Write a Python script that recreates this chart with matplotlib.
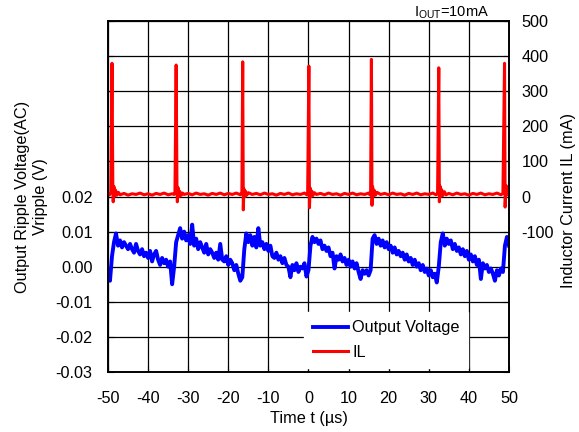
import numpy as np
import matplotlib.pyplot as plt

plt.rcParams['font.family'] = ['Liberation Sans', 'DejaVu Sans']
plt.rcParams['font.size'] = 11.7
plt.rcParams['axes.unicode_minus'] = False

# -----------------------------
# Data read off the scope capture
# -----------------------------

# output ripple voltage, sampled every 0.5 us from -50 to 50 us (mV)
t_vout = np.arange(-50.0, 50.01, 0.5)
vout_mv = [
    -1.5, -4, 3, 7, 9.5, 6, 7.5, 5.5, 7, 6,
    5, 6.5, 5, 4, 6.5, 4.5, 3.5, 5, 3, 4,
    2.5, 4.5, 1.5, 3.5, 4.5, 2, 0.5, 2.5, 1, 2,
    0, 1.5, -5, 0, 7, 9, 11, 8, 10, 7.5,
    9, 6.5, 12, 6, 8, 5, 7, 5.5, 4, 6.5,
    3.5, 5, 4, 2.5, 4, 2, 6.5, 2, 1.5, 3,
    0.5, 2, 1, -1, 0.5, -2, -4, -3, 5, 9.5,
    7, 9, 6, 8.5, 5.5, 11, 6, 7, 5, 6.5,
    4.5, 6, 3, 2.5, 4, 2, 3, 1, 2.5, 0.5,
    0, -3, 0.5, -1, 1, -1.5, 0, -0.5, 1, -2.8,
    -1, 6, 8.5, 7, 8, 6.5, 7.5, 5, 6, 4.5,
    5.5, 3, 4, -0.5, 3, 2, 3.5, 1.5, 2.5, 0.5,
    2, 0, 1.5, -0.5, 1, -1.5, -3.5, -1, -2, -1,
    -2.5, -1, 8, 9, 6.5, 8, 6, 7.5, 5.5, 7,
    5, 6, 4, 5.5, 3.5, 4.5, 3, 4, 2, 3.5,
    1.5, 2.5, 0.5, 2, 0, 1, -1, 0.5, -1.5, -0.5,
    -2.5, -1, -3, -2, -4.5, 0, 7, 9.5, 6, 8,
    6.5, 7.5, 5, 6.5, 4.5, 5.5, 3.5, 5, 3, 4.5,
    2, 3.5, 1.5, 3, 0.5, 2, -3.5, 1, -0.5, 0.5,
    -1.5, -0.5, -2, -4, -1, -2.5, -0.5, -1.5, 6, 8.5,
    6,
]

# inductor current (us, mA)
il_t = [
    -50.0, -49.6, -49.3,
    -49.0, -48.8, -48.7, -48.5, -48.3, -48.1, -47.8, -47.4,
    -47, -46, -45, -44, -43, -42, -41, -40, -39, -38, -37, -36, -35, -34, -33.5, -33.3,
    -33.0, -32.8, -32.7, -32.5, -32.3, -32.1, -31.8, -31.4,
    -31, -30, -29, -28, -27, -26, -25, -24, -23, -22, -21, -20, -19, -18, -17, -16.8, -16.6,
    -16.4, -16.25, -16.1, -15.9, -15.7, -15.4, -15.0,
    -14, -13, -12, -11, -10, -9, -8, -7, -6, -5, -4, -3, -2, -1, -0.4, -0.2,
    0.1, 0.25, 0.4, 0.6, 0.8, 1.1, 1.5,
    2, 3, 4, 5, 6, 7, 8, 9, 10, 11, 12, 13, 14, 15, 15.3, 15.5,
    15.7, 15.85, 16.0, 16.2, 16.4, 16.7, 17.1,
    18, 19, 20, 21, 22, 23, 24, 25, 26, 27, 28, 29, 30, 31, 31.8, 32.2,
    32.5, 32.65, 32.8, 33.0, 33.2, 33.5, 33.9, 34.3,
    35, 36, 37, 38, 39, 40, 41, 42, 43, 44, 45, 46, 47, 48, 48.5,
    48.9, 49.05, 49.2, 49.4, 49.6, 49.8, 50.0,
]
il_ma = [
    8, 5, 12,
    380, 40, -15, 28, 2, 18, 4, 12,
    5, 9, 4, 8, 6, 10, 5, 8, 4, 9, 6, 10, 5, 8, 6, 11,
    375, 35, -15, 25, 0, 15, 3, 10,
    6, 9, 5, 10, 6, 8, 4, 9, 6, 10, 5, 9, 6, 10, 5, 9, 12,
    384, -38, 22, 0, 15, 4, 11,
    6, 9, 5, 10, 6, 8, 4, 9, 6, 10, 5, 8, 6, 10, 5, 10,
    372, -32, 25, 0, 16, 3, 11,
    6, 9, 5, 10, 6, 8, 4, 9, 6, 10, 5, 8, 6, 10, 5, 9,
    391, -25, 28, 2, 18, 4, 12,
    6, 9, 5, 10, 6, 8, 4, 9, 6, 10, 5, 8, 6, 10, 5, 9,
    367, -15, 30, 0, 20, 3, 14, 5,
    9, 5, 10, 6, 8, 4, 9, 6, 10, 5, 8, 6, 10, 5, 9,
    380, -30, 12, 30, 5, 18, 8,
]

left_ticks = [-0.03, -0.02, -0.01, 0.00, 0.01, 0.02, 0.03, 0.04, 0.05, 0.06, 0.07]
left_labels = ['-0.03', '-0.02', '-0.01', '0.00', '0.01', '0.02', '', '', '', '', '']
right_ticks = [-500, -400, -300, -200, -100, 0, 100, 200, 300, 400, 500]
right_labels = ['', '', '', '', '-100', '0', '100', '200', '300', '400', '500']
x_ticks = [-50, -40, -30, -20, -10, 0, 10, 20, 30, 40, 50]

# -----------------------------
# Plot
# -----------------------------

fig = plt.figure(figsize=(5.79, 4.32), dpi=100)
ax1 = fig.add_axes([0.1865, 0.139, 0.6925, 0.812])
ax2 = ax1.twinx()

ax1.plot(t_vout, np.array(vout_mv) / 1000.0, color='#0000ff', lw=2.8, label='Output Voltage')
ax2.plot(il_t, il_ma, color='#ff0000', lw=2.2, label='IL')

ax1.set_xlim(-50, 50)
ax1.set_ylim(-0.03, 0.07)
ax2.set_ylim(-500, 500)

ax1.set_xticks(x_ticks)
ax1.set_yticks(left_ticks)
ax1.set_yticklabels(left_labels)
ax2.set_yticks(right_ticks)
ax2.set_yticklabels(right_labels)

ax1.grid(True, color='black', lw=0.9)
ax1.tick_params(axis='y', direction='in', length=4, pad=11)
ax1.tick_params(axis='x', direction='in', length=4, pad=14)
ax2.tick_params(direction='in', length=4, pad=9)
for ax in (ax1, ax2):
    for sp in ax.spines.values():
        sp.set_linewidth(1.2)

ax1.set_xlabel('Time t (µs)', labelpad=3)
ax1.set_ylabel('Output Ripple Voltage(AC)\nVripple (V)', linespacing=1.2)
ax1.yaxis.set_label_coords(-0.15, 0.5)
ax2.set_ylabel('Inductor Current IL (mA)')
ax2.yaxis.set_label_coords(1.13, 0.49)

fig.text(452 / 579, 1 - 13 / 432, r'I$_{\mathregular{OUT}}$=10mA', ha='center', va='center', fontsize=10.5)

h1, l1 = ax1.get_legend_handles_labels()
h2, l2 = ax2.get_legend_handles_labels()
leg = ax2.legend(h1 + h2, l1 + l2, loc='lower right', bbox_to_anchor=(0.898, 0.011),
                 borderaxespad=0, frameon=True, fancybox=False, framealpha=1,
                 facecolor='white', edgecolor='white', handlelength=2.2,
                 handletextpad=0.25, labelspacing=0.6, borderpad=0.5)

fig.savefig('out.png', dpi=100)
